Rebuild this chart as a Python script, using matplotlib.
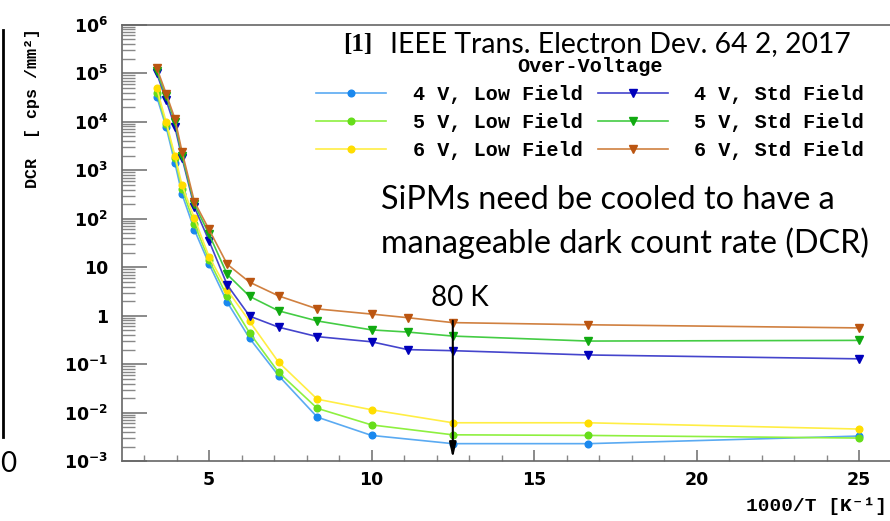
import matplotlib
matplotlib.use('Agg')
import matplotlib.pyplot as plt
from matplotlib.lines import Line2D
from matplotlib.ticker import FixedLocator, LogLocator, MultipleLocator, NullFormatter
import numpy as np

# 1000/T [1/K]
x_low = [3.39, 3.68, 3.95, 4.17, 4.55, 5.0, 5.56, 6.25, 7.14, 8.33, 10.0, 12.5, 16.67, 25.0]
x_std = [3.39, 3.68, 3.95, 4.17, 4.55, 5.0, 5.56, 6.25, 7.14, 8.33, 10.0, 11.11, 12.5, 16.67, 25.0]

# DCR [cps/mm^2]
dcr_4v_low = [3.3e4, 7.8e3, 1.4e3, 320, 59, 11.7, 1.9, 0.34, 0.058, 0.0081, 0.0034, 0.0023, 0.0023, 0.0033]
dcr_5v_low = [4.0e4, 8.9e3, 1.8e3, 410, 78, 14, 2.5, 0.44, 0.068, 0.0123, 0.0056, 0.0035, 0.0034, 0.0030]
dcr_6v_low = [4.9e4, 1.0e4, 2.0e3, 490, 102, 16.6, 3.4, 0.76, 0.11, 0.019, 0.0115, 0.0062, 0.0062, 0.0046]
dcr_4v_std = [1.0e5, 2.8e4, 7.8e3, 1.8e3, 174, 35, 4.3, 0.98, 0.58, 0.37, 0.29, 0.20, 0.19, 0.155, 0.129]
dcr_5v_std = [1.1e5, 3.4e4, 1.0e4, 2.0e3, 200, 48, 7.1, 2.5, 1.26, 0.78, 0.51, 0.46, 0.38, 0.30, 0.31]
dcr_6v_std = [1.3e5, 3.8e4, 1.15e4, 2.4e3, 224, 60, 11.5, 4.9, 2.56, 1.38, 1.08, 0.91, 0.72, 0.65, 0.56]

labels = ["4 V, Low Field", "5 V, Low Field", "6 V, Low Field",
          "4 V, Std Field", "5 V, Std Field", "6 V, Std Field"]
y_ticks = [1e-3, 1e-2, 1e-1, 1, 10, 1e2, 1e3, 1e4, 1e5, 1e6]
y_ticklabels = [r'$\mathbf{10^{-3}}$', r'$\mathbf{10^{-2}}$', r'$\mathbf{10^{-1}}$', '1', '10',
                r'$\mathbf{10^{2}}$', r'$\mathbf{10^{3}}$', r'$\mathbf{10^{4}}$',
                r'$\mathbf{10^{5}}$', r'$\mathbf{10^{6}}$']

W, H = 890, 521
fig = plt.figure(figsize=(W / 100, H / 100), dpi=100)
ax = fig.add_axes([122 / W, 59.8 / H, (W - 122) / W, (461.2 - 24.7) / H])

series = [
    (x_low, dcr_4v_low, '#5aaaf2', '#1a88ee', 'o', 4.8),
    (x_low, dcr_5v_low, '#8ef040', '#66dd1a', 'o', 4.8),
    (x_low, dcr_6v_low, '#ffee44', '#ffdd00', 'o', 4.8),
    (x_std, dcr_4v_std, '#4444cc', '#0000bb', 'v', 5.8),
    (x_std, dcr_5v_std, '#44cc44', '#11aa11', 'v', 5.8),
    (x_std, dcr_6v_std, '#d08040', '#bb5511', 'v', 5.8),
]
handles = []
for (xs, ys, lc, mc, mk, ms), lab in zip(series, labels):
    h, = ax.plot(xs, ys, color=lc, lw=1.2, marker=mk, ms=ms,
                 markerfacecolor=mc, markeredgecolor=mc, label=lab)
    handles.append(h)

ax.set_yscale('log')
ax.set_xlim(2.323, 25.95)
ax.set_ylim(1e-3, 1e6)

ax.yaxis.set_major_locator(FixedLocator(y_ticks))
ax.set_yticklabels(y_ticklabels)
ax.yaxis.set_minor_locator(LogLocator(base=10, subs=np.arange(2, 10)))
ax.yaxis.set_minor_formatter(NullFormatter())
ax.xaxis.set_major_locator(MultipleLocator(5))
ax.xaxis.set_minor_locator(MultipleLocator(1))

for sp in ['top', 'left', 'bottom']:
    ax.spines[sp].set_color('#666666')
    ax.spines[sp].set_linewidth(1.2)
ax.spines['right'].set_visible(False)

ax.tick_params(axis='y', which='major', direction='in', length=18, width=1.2,
               color='#777777', pad=10, labelsize=12.5)
ax.tick_params(axis='y', which='minor', direction='in', length=9, width=1,
               color='#888888')
ax.tick_params(axis='x', which='major', direction='in', length=8, width=1.2,
               color='#777777', pad=7, labelsize=12.5)
ax.tick_params(axis='x', which='minor', direction='in', length=4, width=1,
               color='#888888')
for lab in ax.get_xticklabels() + ax.get_yticklabels():
    lab.set_fontweight('bold')

mono = ['Liberation Mono', 'DejaVu Sans Mono']

# legend: left column low field, right column std field
leg = ax.legend(handles=handles, ncol=2, frameon=False, title='Over-Voltage',
                prop={'family': mono, 'weight': 'bold', 'size': 14.5},
                title_fontproperties={'family': mono, 'weight': 'bold', 'size': 14.5},
                handlelength=3.5, handletextpad=1.3, columnspacing=0.75,
                labelspacing=0.45, borderpad=0, borderaxespad=0,
                loc='upper left', bbox_to_anchor=(316 / W, 1 - 57 / H),
                bbox_transform=fig.transFigure)

# axis titles
fig.text(33 / W, 1 - 108 / H, 'DCR  [ cps /mm²]', rotation=90, ha='center', va='center',
         family=mono, weight='bold', fontsize=12)
fig.text(746 / W, 1 - 506 / H, '1000/T [K⁻¹]', ha='left', va='center',
         family=mono, weight='bold', fontsize=14)

# annotations
fig.text(343 / W, 1 - 45 / H, '[1]', ha='left', va='center',
         family='Liberation Serif', weight='bold', fontsize=18)
fig.text(390 / W, 1 - 44 / H, 'IEEE Trans. Electron Dev. 64 2, 2017', ha='left', va='center',
         family='Lato', fontsize=20.4)
fig.text(381 / W, 1 - 200 / H, 'SiPMs need be cooled to have a', ha='left', va='center',
         family='Lato', fontsize=23.3)
fig.text(381 / W, 1 - 243 / H, 'manageable dark count rate (DCR)', ha='left', va='center',
         family='Lato', fontsize=23.3)
fig.text(431 / W, 1 - 298 / H, '80 K', ha='left', va='center', family='Lato', fontsize=20)
ax.annotate('', xy=(12.5, 1e-3), xytext=(12.5, 0.9),
            arrowprops=dict(arrowstyle='-|>,head_width=0.2,head_length=0.9',
                            color='black', lw=1.5))

# slide remnants at the left edge
fig.add_artist(Line2D([3 / W, 3 / W], [1 - 30 / H, 1 - 437 / H], color='black', lw=2))
fig.text(0 / W, 1 - 464 / H, '0', ha='left', va='center', family='Lato', fontsize=20)

plt.savefig('out.png', dpi=100)
